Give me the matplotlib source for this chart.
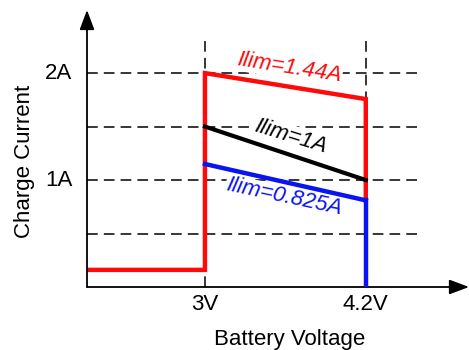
import matplotlib.pyplot as plt

# Data (volts, amps)
v_min, v_max = 2.12, 4.97
i_max = 2.59
v_knee = [3.0, 4.2]
v_labels = ["3V", "4.2V"]
i_ticks = [1.0, 2.0]
i_labels = ["1A", "2A"]
i_grid = [0.5, 1.0, 1.5, 2.0]

i_precharge = 0.16
red_i = [2.0, 1.757]     # Ilim=1.44A
black_i = [1.5, 1.0]     # Ilim=1A
blue_i = [1.15, 0.81]    # Ilim=0.825A

plt.rcParams['font.family'] = ['Liberation Sans', 'DejaVu Sans']

RED = '#ff0a0a'
BLUE = '#0a14f0'
FS = 16

fig = plt.figure(figsize=(4.69, 3.5), dpi=100)
ax = fig.add_axes([87/469, 63/350, 382/469, 277/350])
ax.set_xlim(v_min, v_max)
ax.set_ylim(0, i_max)
ax.set_axis_off()

# dashed guide lines
for i in i_grid:
    ax.plot([v_min, 4.6], [i, i], color='black', lw=1.1, ls=(0, (7, 4)), zorder=1)
for v in v_knee:
    ax.plot([v, v], [0, 2.355], color='black', lw=1.1, ls=(0, (7, 4)), zorder=1)

# axes with arrows
arrow = dict(arrowstyle='-|>,head_length=1.2,head_width=0.45',
             color='black', lw=1.3, shrinkA=0, shrinkB=0)
ax.annotate('', xy=(v_max, 0), xytext=(v_min, 0), arrowprops=arrow, zorder=6)
ax.annotate('', xy=(v_min, i_max), xytext=(v_min, 0), arrowprops=arrow, zorder=6)

# curves
ax.plot([v_knee[0], v_knee[1]], black_i, color='black', lw=3, zorder=5)
ax.plot([v_knee[0], v_knee[1]], blue_i, color=BLUE, lw=3.2, zorder=5)
ax.plot([v_knee[1], v_knee[1]], [blue_i[1], 0], color=BLUE, lw=3.2, zorder=6)
ax.plot([v_min, v_knee[0], v_knee[0], v_knee[1], v_knee[1]],
        [i_precharge, i_precharge, red_i[0], red_i[1], blue_i[1]],
        color=RED, lw=3.2, zorder=4, solid_joinstyle='miter')

# tick labels
for i, lab in zip(i_ticks, i_labels):
    ax.text(v_min - 0.11, i, lab, ha='right', va='center', fontsize=FS)
for v, lab in zip(v_knee, v_labels):
    ax.text(v, -0.07, lab, ha='center', va='top', fontsize=FS)

ax.text(3.63, -0.39, "Battery Voltage", ha='center', va='top', fontsize=FS)
ax.text(v_min - 0.47, 1.17, "Charge Current", ha='center', va='center',
        rotation=90, fontsize=FS)

# curve labels (white background hides the dashed lines behind them)
box = dict(fc='white', ec='none', pad=0.5)
ax.text(3.63, 2.05, "Ilim=1.44A", color=RED, fontsize=FS, style='italic',
        rotation=-9, ha='center', va='center', bbox=box, zorder=2)
ax.text(3.64, 1.41, "Ilim=1A", color='black', fontsize=FS, style='italic',
        rotation=-17, ha='center', va='center', bbox=box, zorder=2)
ax.text(3.59, 0.84, "Ilim=0.825A", color=BLUE, fontsize=FS, style='italic',
        rotation=-12, ha='center', va='center', bbox=box, zorder=2)

fig.savefig("out.png", dpi=100)
